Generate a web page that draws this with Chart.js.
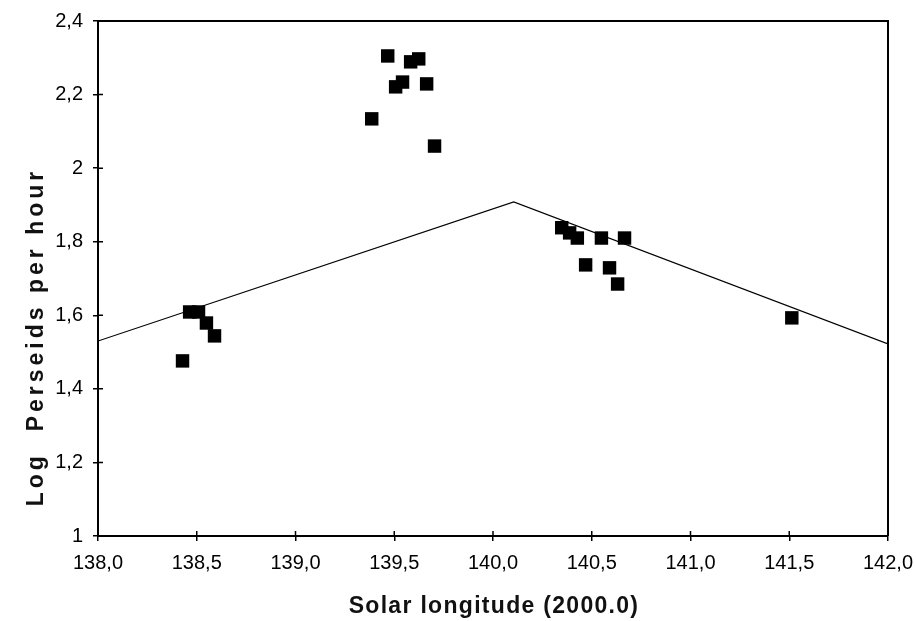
<!DOCTYPE html>
<html><head><meta charset="utf-8">
<script src="https://cdn.jsdelivr.net/npm/chart.js@4/dist/chart.umd.min.js"></script>
<style>html,body{margin:0;padding:0;background:#fff}</style>
</head><body>
<canvas id="c" width="916" height="621"></canvas>
<script>
// Observed Perseid rates
const solarLongitude = [138.428, 138.464, 138.509, 138.549, 138.590,
  139.386, 139.467, 139.507, 139.542, 139.583, 139.624, 139.664, 139.704,
  140.348, 140.388, 140.427, 140.469, 140.549, 140.590, 140.631, 140.666,
  141.513];
const logRate = [1.476, 1.609, 1.609, 1.579, 1.544,
  2.134, 2.305, 2.221, 2.234, 2.289, 2.297, 2.229, 2.060,
  1.838, 1.824, 1.810, 1.737, 1.810, 1.729, 1.685, 1.810,
  1.593];
// Fitted profile (two straight branches)
const fitLongitude = [138.0, 140.105, 142.0];
const fitLogRate = [1.530, 1.908, 1.522];
// Ticks
const xTickValues = [138.0, 138.5, 139.0, 139.5, 140.0, 140.5, 141.0, 141.5, 142.0];
const xTickLabels = ['138,0', '138,5', '139,0', '139,5', '140,0', '140,5', '141,0', '141,5', '142,0'];
const yTickValues = [1, 1.2, 1.4, 1.6, 1.8, 2, 2.2, 2.4];
const yTickLabels = ['1', '1,2', '1,4', '1,6', '1,8', '2', '2,2', '2,4'];
const xTitle = 'Solar longitude (2000.0)';
const yTitle = 'Log  Perseids per hour';

const FONT = "'Liberation Sans', Arial, sans-serif";

const framePlugin = {
  id: 'frame',
  afterDraw(chart) {
    const ctx = chart.ctx, a = chart.chartArea;
    const xs = chart.scales.x, ys = chart.scales.y;
    ctx.save();
    ctx.strokeStyle = '#000';
    ctx.lineWidth = 2;
    ctx.beginPath();
    ctx.moveTo(a.left, a.top); ctx.lineTo(a.right, a.top); ctx.lineTo(a.right, a.bottom);
    ctx.stroke();
    ctx.lineWidth = 1.5;
    ctx.beginPath();
    xTickValues.forEach(v => { const p = xs.getPixelForValue(v); ctx.moveTo(p, a.bottom); ctx.lineTo(p, a.bottom - 5); });
    yTickValues.forEach(v => { const p = ys.getPixelForValue(v); ctx.moveTo(a.left, p); ctx.lineTo(a.left + 5, p); });
    ctx.stroke();
    // axis titles
    ctx.fillStyle = '#111';
    ctx.font = "bold 23px " + FONT;
    ctx.textAlign = 'center';
    ctx.textBaseline = 'middle';
    ctx.letterSpacing = '1.3px';
    ctx.fillText(xTitle, (a.left + a.right) / 2 + 1, 607);
    ctx.translate(37, 337);
    ctx.rotate(-Math.PI / 2);
    ctx.letterSpacing = '4px';
    ctx.fillText(yTitle, 0, 0);
    ctx.restore();
  }
};

new Chart(document.getElementById('c'), {
  type: 'scatter',
  data: {
    datasets: [
      {
        label: 'Observed',
        data: solarLongitude.map((x, i) => ({ x, y: logRate[i] })),
        pointStyle: 'rect',
        pointRadius: 9.5,
        pointHoverRadius: 9.5,
        borderWidth: 0,
        backgroundColor: '#000',
        borderColor: '#000',
        showLine: false,
        order: 1
      },
      {
        label: 'Fit',
        data: fitLongitude.map((x, i) => ({ x, y: fitLogRate[i] })),
        showLine: true,
        borderColor: '#000',
        borderWidth: 1.2,
        pointRadius: 0,
        tension: 0,
        fill: false,
        order: 2
      }
    ]
  },
  options: {
    responsive: false,
    animation: false,
    events: [],
    layout: { padding: { top: 21, right: 28, left: 0, bottom: 0 } },
    plugins: { legend: { display: false }, tooltip: { enabled: false } },
    scales: {
      x: {
        type: 'linear', min: 138, max: 142,
        afterBuildTicks: s => { s.ticks = xTickValues.map(v => ({ value: v })); },
        afterFit: s => { s.height = 85; s.paddingLeft = 0; s.paddingRight = 0; },
        ticks: {
          autoSkip: false, maxRotation: 0, padding: 10, color: '#000',
          font: { family: FONT, size: 20 },
          callback: v => xTickLabels[xTickValues.indexOf(v)]
        },
        grid: { drawOnChartArea: false, drawTicks: true, tickLength: 5, color: '#000', lineWidth: 1.5 },
        border: { display: true, color: '#000', width: 2 }
      },
      y: {
        type: 'linear', min: 1, max: 2.4,
        afterBuildTicks: s => { s.ticks = yTickValues.map(v => ({ value: v })); },
        afterFit: s => { s.width = 98; s.paddingTop = 0; s.paddingBottom = 0; },
        ticks: {
          autoSkip: false, padding: 10, color: '#000',
          font: { family: FONT, size: 20 },
          callback: v => yTickLabels[yTickValues.findIndex(t => Math.abs(t - v) < 1e-6)]
        },
        grid: { drawOnChartArea: false, drawTicks: true, tickLength: 5, color: '#000', lineWidth: 1.5 },
        border: { display: true, color: '#000', width: 2 }
      }
    }
  },
  plugins: [framePlugin]
});
</script>
</body></html>
